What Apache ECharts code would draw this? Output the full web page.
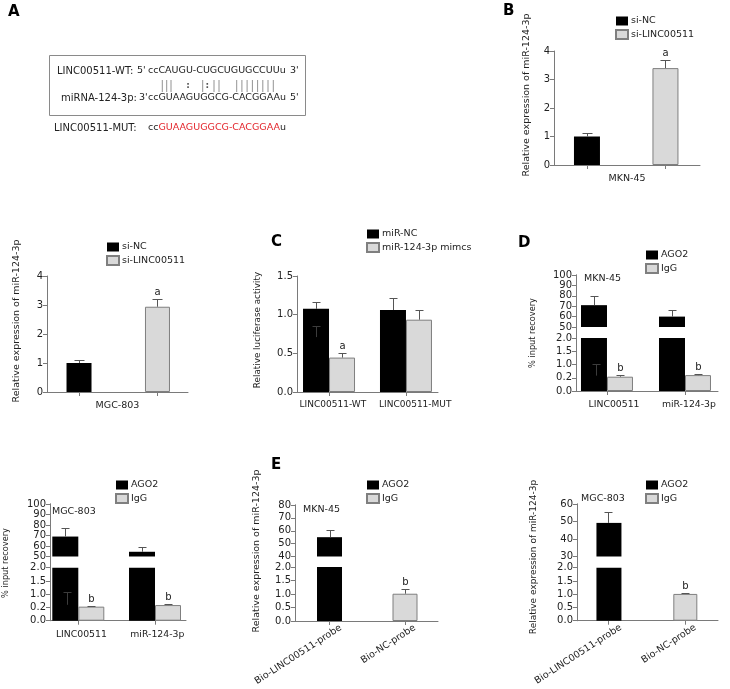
<!DOCTYPE html>
<html><head><meta charset="utf-8">
<script src="https://cdn.jsdelivr.net/npm/echarts@6/dist/echarts.min.js"></script>
<style>html,body{margin:0;padding:0;background:#fff}#c{width:730px;height:689px}</style>
</head><body><div id="c"></div>
<script>
// ---------- DATA ----------
// Panel B: MKN-45 miR-124-3p expression
const siSeries = ['si-NC', 'si-LINC00511'];
const bValues = [1.0, 3.4];
const bErrors = [0.12, 0.28];
const bSig = ['', 'a'];
// MGC-803 miR-124-3p expression
const mValues = [1.0, 2.94];
const mErrors = [0.12, 0.26];
const mSig = ['', 'a'];
const expTicks = ['0', '1', '2', '3', '4'];
// Panel C: luciferase
const lucCategories = ['LINC00511-WT', 'LINC00511-MUT'];
const lucSeries = ['miR-NC', 'miR-124-3p mimcs'];
const lucNC = [1.075, 1.06];
const lucNCErr = [0.083, 0.16];
const lucMimic = [0.445, 0.935];
const lucMimicErr = [0.06, 0.125];
const lucSig = ['a', ''];
const lucInnerMark = [[0, 0.855, 0.71]];   // faint whisker inside first black bar: [cat, top, bottom]
// Panel D (MKN-45) and bottom-left (MGC-803): RIP
const ripCategories = ['LINC00511', 'miR-124-3p'];
const ripSeries = ['AGO2', 'IgG'];
const dAgo2 = [71, 60];
const dAgo2Err = [9, 6.5];
const dIgG = [0.54, 0.6];
const dIgGErr = [0.05, 0.03];
const dInnerMark = [[0, 1.03, 0.58]];
const fAgo2 = [69, 54.5];
const fAgo2Err = [8.5, 5];
const fIgG = [0.53, 0.59];
const fIgGErr = [0.04, 0.03];
const fInnerMark = [[0, 1.07, 0.6]];
const ripSig = ['b', 'b'];
const ripLowerTicks = ['0.0', '0.2', '1.0', '1.5', '2.0'];
// Panel E (MKN-45) and bottom-right (MGC-803): RNA pull-down
const probeCategories = ['Bio-LINC00511-probe', 'Bio-NC-probe'];
const eValues = [55, 1.01];
const eErrors = [5.5, 0.19];
const gValues = [49.2, 1.01];
const gErrors = [6.2, 0.03];
const probeSig = ['', 'b'];
const lowerTicks = ['0.0', '0.5', '1.0', '1.5', '2.0'];

// ---------- STYLE / LAYOUT ----------
const FONT = 'DejaVu Sans';
const AX = '#7a7a7a';
const TXT = '#222';
const BLACK = {color: '#000'};
const GRAY = {color: '#d9d9d9', borderColor: '#7f7f7f', borderWidth: 1};
const BW = 26;

const chart = echarts.init(document.getElementById('c'), null, {renderer: 'canvas'});

const grids = [
  {left: 554, top: 51, width: 146, height: 114},      // 0 B
  {left: 47, top: 276, width: 141, height: 116},      // 1 MGC expr
  {left: 297, top: 276, width: 141, height: 116},     // 2 C
  {left: 576, top: 275, width: 142, height: 52},      // 3 D up
  {left: 576, top: 338, width: 142, height: 53},      // 4 D low
  {left: 576, top: 275, width: 142, height: 116},     // 5 D full
  {left: 50, top: 504, width: 136, height: 52.5},     // 6 BL up
  {left: 50, top: 567.7, width: 136, height: 53},     // 7 BL low
  {left: 50, top: 504, width: 136, height: 116.7},    // 8 BL full
  {left: 295, top: 505, width: 143, height: 51.5},    // 9 E up
  {left: 295, top: 567, width: 143, height: 54},      // 10 E low
  {left: 295, top: 505, width: 143, height: 116},     // 11 E full
  {left: 577, top: 504, width: 141, height: 52.5},    // 12 BR up
  {left: 577, top: 567.7, width: 141, height: 53},    // 13 BR low
  {left: 577, top: 504, width: 141, height: 116.7}    // 14 BR full
];
// x extents (in category-index units) so the groups sit where the reference has them
const xB = [-0.42, 1.44], xM = [-0.408, 1.389], xC = [-0.416, 1.416], xD = [-0.397, 1.423];
const xF = [-0.369, 1.404], xE = [-0.457, 1.437], xG = [-0.409, 1.425];

function xAx(grid, ext, cats, o) {
  o = o || {};
  return {
    type: 'value', gridIndex: grid, min: ext[0], max: ext[1], show: o.show !== false,
    axisLine: {show: true, onZero: false, lineStyle: {color: AX, width: 1}},
    axisTick: {show: true, length: 4, customValues: [0, 1], lineStyle: {color: AX}},
    axisLabel: {show: !!o.labels, customValues: o.labelPos || [0, 1],
      formatter: function (v) { return cats[Math.round(v)]; },
      fontSize: o.fs || 9.5, color: TXT, margin: o.margin || 8, rotate: o.rotate || 0, fontFamily: FONT,
      showMinLabel: true, showMaxLabel: true},
    name: o.name || '', nameLocation: 'middle', nameGap: o.nameGap || 10,
    nameTextStyle: {fontSize: 9.5, color: TXT, fontFamily: FONT},
    splitLine: {show: false}
  };
}
function yVal(grid, min, max, interval, fmt, o) {
  o = o || {};
  return {
    type: 'value', gridIndex: grid, min: min, max: max, interval: interval,
    axisLine: {show: true, onZero: false, lineStyle: {color: AX, width: 1}},
    axisTick: {show: o.noTick ? false : true, length: 4, lineStyle: {color: AX}},
    axisLabel: {show: o.noLabel ? false : true, fontSize: 10, color: TXT, margin: 4, formatter: fmt, fontFamily: FONT},
    splitLine: {show: false}
  };
}
const fmtList = (list, step, base) => (v) => list[Math.round((v - base) / step)];
const fmtInt = (v) => String(v);
const fmt1 = (v) => v.toFixed(1);

const xAxes = [
  xAx(0, xB, siSeries, {name: 'MKN-45', nameGap: 9}),
  xAx(1, xM, siSeries, {name: 'MGC-803', nameGap: 9}),
  xAx(2, xC, lucCategories, {labels: true, margin: 8, fs: 9, labelPos: [0.05, 1.12]}),
  xAx(3, xD, ripCategories, {show: false}),
  xAx(4, xD, ripCategories, {labels: true, margin: 9, fs: 9.3, labelPos: [0.09, 1.05]}),
  xAx(5, xD, ripCategories, {show: false}),
  xAx(6, xF, ripCategories, {show: false}),
  xAx(7, xF, ripCategories, {labels: true, margin: 9, fs: 9.3, labelPos: [0.04, 1.03]}),
  xAx(8, xF, ripCategories, {show: false}),
  xAx(9, xE, probeCategories, {show: false}),
  xAx(10, xE, probeCategories, {labels: true, rotate: 33, margin: 6, labelPos: [0.15, 1.13]}),
  xAx(11, xE, probeCategories, {show: false}),
  xAx(12, xG, probeCategories, {show: false}),
  xAx(13, xG, probeCategories, {labels: true, rotate: 33, margin: 6, labelPos: [0.16, 1.13]}),
  xAx(14, xG, probeCategories, {show: false})
];
const yAxes = [
  yVal(0, 0, 4, 1, fmtList(expTicks, 1, 0)),
  yVal(1, 0, 4, 1, fmtList(expTicks, 1, 0)),
  yVal(2, 0, 1.5, 0.5, fmt1),
  yVal(3, 50, 100, 10, fmtInt),
  yVal(4, 0, 2, 0.5, fmtList(ripLowerTicks, 0.5, 0)),
  yVal(5, 0, 1, 1, fmtInt, {noTick: true, noLabel: true}),
  yVal(6, 50, 100, 10, fmtInt),
  yVal(7, 0, 2, 0.5, fmtList(ripLowerTicks, 0.5, 0)),
  yVal(8, 0, 1, 1, fmtInt, {noTick: true, noLabel: true}),
  yVal(9, 40, 80, 10, fmtInt),
  yVal(10, 0, 2, 0.5, fmtList(lowerTicks, 0.5, 0)),
  yVal(11, 0, 1, 1, fmtInt, {noTick: true, noLabel: true}),
  yVal(12, 30, 60, 10, fmtInt),
  yVal(13, 0, 2, 0.5, fmtList(lowerTicks, 0.5, 0)),
  yVal(14, 0, 1, 1, fmtInt, {noTick: true, noLabel: true})
];

const pairs = (vals) => vals.map((v, i) => [i, v]);
const only = (vals, keep) => [[keep, vals[keep]]];

function bar(name, axis, data, style, gap, width) {
  return {
    type: 'bar', name: name, xAxisIndex: axis, yAxisIndex: axis, data: data,
    barWidth: width || BW, barGap: gap, itemStyle: style, clip: true,
    silent: true, animation: false
  };
}
function errBars(axis, idx, vals, errs, sig, offset, capW) {
  const data = idx.map((i) => [i, vals[i], errs[i]]);
  return {
    type: 'custom', name: 'err', xAxisIndex: axis, yAxisIndex: axis, data: data,
    silent: true, animation: false, z: 5,
    renderItem: function (params, api) {
      const i = api.value(0), v = api.value(1), e = api.value(2);
      const base = api.coord([i, v]);
      const top = api.coord([i, v + e]);
      const x = Math.round(base[0] + offset) + 0.5;
      const yt = Math.round(top[1]) + 0.5;
      const kids = [
        {type: 'line', shape: {x1: x, y1: base[1], x2: x, y2: yt}, style: {stroke: '#555', lineWidth: 1}},
        {type: 'line', shape: {x1: x - capW / 2, y1: yt, x2: x + capW / 2, y2: yt}, style: {stroke: '#555', lineWidth: 1}}
      ];
      const lab = sig[i];
      if (lab) kids.push({type: 'text', x: x, y: yt - 2, style: {text: lab, fill: TXT, font: '10px "' + FONT + '"', align: 'center', verticalAlign: 'bottom'}});
      return {type: 'group', children: kids};
    }
  };
}
// faint dark-grey whisker visible inside a black bar
function innerMark(axis, data, offset, capW) {
  return {
    type: 'custom', name: 'inner', xAxisIndex: axis, yAxisIndex: axis, data: data,
    silent: true, animation: false, z: 4,
    renderItem: function (params, api) {
      const top = api.coord([api.value(0), api.value(1)]);
      const bot = api.coord([api.value(0), api.value(2)]);
      const x = Math.round(top[0] + offset) + 0.5;
      const yt = Math.round(top[1]) + 0.5;
      return {type: 'group', children: [
        {type: 'line', shape: {x1: x, y1: yt, x2: x, y2: bot[1]}, style: {stroke: '#3c3c3c', lineWidth: 1}},
        {type: 'line', shape: {x1: x - capW / 2, y1: yt, x2: x + capW / 2, y2: yt}, style: {stroke: '#3c3c3c', lineWidth: 1}}
      ]};
    }
  };
}

const series = [
  // B
  bar(siSeries[0], 0, only(bValues, 0), BLACK, '-100%', 26),
  bar(siSeries[1], 0, only(bValues, 1), GRAY, '-100%', 26),
  errBars(0, [0, 1], bValues, bErrors, bSig, 0, 10),
  // MGC expr
  bar(siSeries[0], 1, only(mValues, 0), BLACK, '-100%', 25),
  bar(siSeries[1], 1, only(mValues, 1), GRAY, '-100%', 25),
  errBars(1, [0, 1], mValues, mErrors, mSig, 0, 10),
  // C
  bar(lucSeries[0], 2, pairs(lucNC), BLACK, '0%'),
  bar(lucSeries[1], 2, pairs(lucMimic), GRAY, '0%'),
  errBars(2, [0, 1], lucNC, lucNCErr, ['', ''], -BW / 2, 8),
  errBars(2, [0, 1], lucMimic, lucMimicErr, lucSig, BW / 2, 8),
  innerMark(2, lucInnerMark, -BW / 2, 8),
  // D
  bar(ripSeries[0], 3, pairs(dAgo2), BLACK, '0%'),
  bar(ripSeries[1], 3, pairs(dIgG), GRAY, '0%'),
  bar(ripSeries[0], 4, pairs(dAgo2), BLACK, '0%'),
  bar(ripSeries[1], 4, pairs(dIgG), GRAY, '0%'),
  errBars(3, [0, 1], dAgo2, dAgo2Err, ['', ''], -BW / 2, 8),
  errBars(4, [0, 1], dIgG, dIgGErr, ripSig, BW / 2, 8),
  innerMark(4, dInnerMark, -BW / 2 + 2, 8),
  // bottom-left
  bar(ripSeries[0], 6, pairs(fAgo2), BLACK, '0%'),
  bar(ripSeries[1], 6, pairs(fIgG), GRAY, '0%'),
  bar(ripSeries[0], 7, pairs(fAgo2), BLACK, '0%'),
  bar(ripSeries[1], 7, pairs(fIgG), GRAY, '0%'),
  errBars(6, [0, 1], fAgo2, fAgo2Err, ['', ''], -BW / 2, 8),
  errBars(7, [0, 1], fIgG, fIgGErr, ripSig, BW / 2, 8),
  innerMark(7, fInnerMark, -BW / 2 + 2, 8),
  // E
  bar(ripSeries[0], 9, only(eValues, 0), BLACK, '-100%', 25),
  bar(ripSeries[1], 9, only(eValues, 1), GRAY, '-100%', 25),
  bar(ripSeries[0], 10, only(eValues, 0), BLACK, '-100%', 25),
  bar(ripSeries[1], 10, only(eValues, 1), GRAY, '-100%', 25),
  errBars(9, [0], eValues, eErrors, probeSig, 0, 8),
  errBars(10, [1], eValues, eErrors, probeSig, 0, 8),
  // bottom-right
  bar(ripSeries[0], 12, only(gValues, 0), BLACK, '-100%', 25),
  bar(ripSeries[1], 12, only(gValues, 1), GRAY, '-100%', 24),
  bar(ripSeries[0], 13, only(gValues, 0), BLACK, '-100%', 25),
  bar(ripSeries[1], 13, only(gValues, 1), GRAY, '-100%', 24),
  errBars(12, [0], gValues, gErrors, probeSig, 0, 8),
  errBars(13, [1], gValues, gErrors, probeSig, 0, 8)
];

function leg(left, top, names) {
  return {
    left: left, top: top, orient: 'vertical', icon: 'rect', itemWidth: 12, itemHeight: 9,
    itemGap: 3, padding: 0, data: names, selectedMode: false,
    textStyle: {fontSize: 9.5, color: TXT, fontFamily: FONT, padding: [0, 0, 0, -2]}
  };
}
const legends = [
  leg(615, 16, siSeries),
  leg(106, 242, siSeries),
  leg(366, 229, lucSeries),
  leg(645, 250, ripSeries),
  leg(115, 480, ripSeries),
  leg(366, 480, ripSeries),
  leg(645, 480, ripSeries)
];

// ---------- GRAPHIC TEXT ----------
function txt(x, y, s, size, align) {
  return {type: 'text', x: x, y: y, silent: true,
    style: {text: s, fill: TXT, font: size + 'px "' + FONT + '"', verticalAlign: 'middle', align: align || 'left'}};
}
function vtxt(x, y, s, size) {
  return {type: 'text', x: x, y: y, rotation: Math.PI / 2, silent: true,
    style: {text: s, fill: TXT, font: size + 'px "' + FONT + '"', align: 'center', verticalAlign: 'middle'}};
}
function panelLetter(x, y, s) {
  return {type: 'text', x: x, y: y, silent: true,
    style: {text: s, fill: '#000', font: 'bold 15px "' + FONT + '"', verticalAlign: 'top', align: 'left'}};
}
const pairBars = [162.3, 166.7, 171, 202.7, 214, 219, 236.7, 241.9, 247.1, 252.4, 257.6, 262.8, 268, 273.3];
const pairDots = [188, 207.3];

const graphics = [
  panelLetter(8, 5, 'A'), panelLetter(503, 4, 'B'), panelLetter(271, 235, 'C'),
  panelLetter(518, 236, 'D'), panelLetter(271, 458, 'E'),
  {type: 'rect', silent: true, shape: {x: 49.5, y: 55.5, width: 256, height: 60}, style: {fill: 'none', stroke: '#8a8a8a', lineWidth: 1}},
  txt(57, 71, 'LINC00511-WT:', 10), txt(137, 71, "5'", 9.5), txt(148, 71, 'ccCAUGU-CUGCUGUGCCUUu', 9.5), txt(290, 71, "3'", 9.5),
  txt(61, 98, 'miRNA-124-3p:', 10), txt(139, 98, "3'", 9.5), txt(148, 98, 'ccGUAAGUGGCG-CACGGAAu', 9.5), txt(290, 98, "5'", 9.5),
  txt(54, 128, 'LINC00511-MUT:', 10),
  {type: 'text', x: 148, y: 128, silent: true, style: {
    text: '{k|cc}{r|GUAAGUGGCG-CACGGAA}{k|u}', verticalAlign: 'middle', align: 'left',
    rich: {k: {fill: TXT, font: '9.5px "' + FONT + '"'}, r: {fill: '#e3262d', font: '9.5px "' + FONT + '"'}}}},
  vtxt(527, 95, 'Relative expression of miR-124-3p', 9.5),
  vtxt(17, 321, 'Relative expression of miR-124-3p', 9.5),
  vtxt(258, 330, 'Relative luciferase activity', 8.8),
  vtxt(533, 333, '% input recovery', 8.2),
  vtxt(6, 563, '% input recovery', 8.2),
  vtxt(257, 551, 'Relative expression of miR-124-3p', 9.5),
  vtxt(534, 557, 'Relative expression of miR-124-3p', 9),
  txt(584, 279, 'MKN-45', 9.5),
  txt(52, 512, 'MGC-803', 9.5),
  txt(303, 510, 'MKN-45', 9.5),
  txt(603, 499, 'MGC-803', 9.5, 'center')
];
pairBars.forEach(function (x) {
  graphics.push({type: 'line', silent: true, shape: {x1: x, y1: 80, x2: x, y2: 92}, style: {stroke: '#777', lineWidth: 0.8}});
});
pairDots.forEach(function (x) {
  graphics.push({type: 'text', x: x, y: 86, silent: true, style: {text: ':', fill: '#555', font: 'bold 9px "' + FONT + '"', align: 'center', verticalAlign: 'middle'}});
});

chart.setOption({
  animation: false,
  backgroundColor: '#fff',
  textStyle: {fontFamily: FONT},
  grid: grids,
  xAxis: xAxes,
  yAxis: yAxes,
  legend: legends,
  series: series,
  graphic: graphics
});
</script>
</body></html>
